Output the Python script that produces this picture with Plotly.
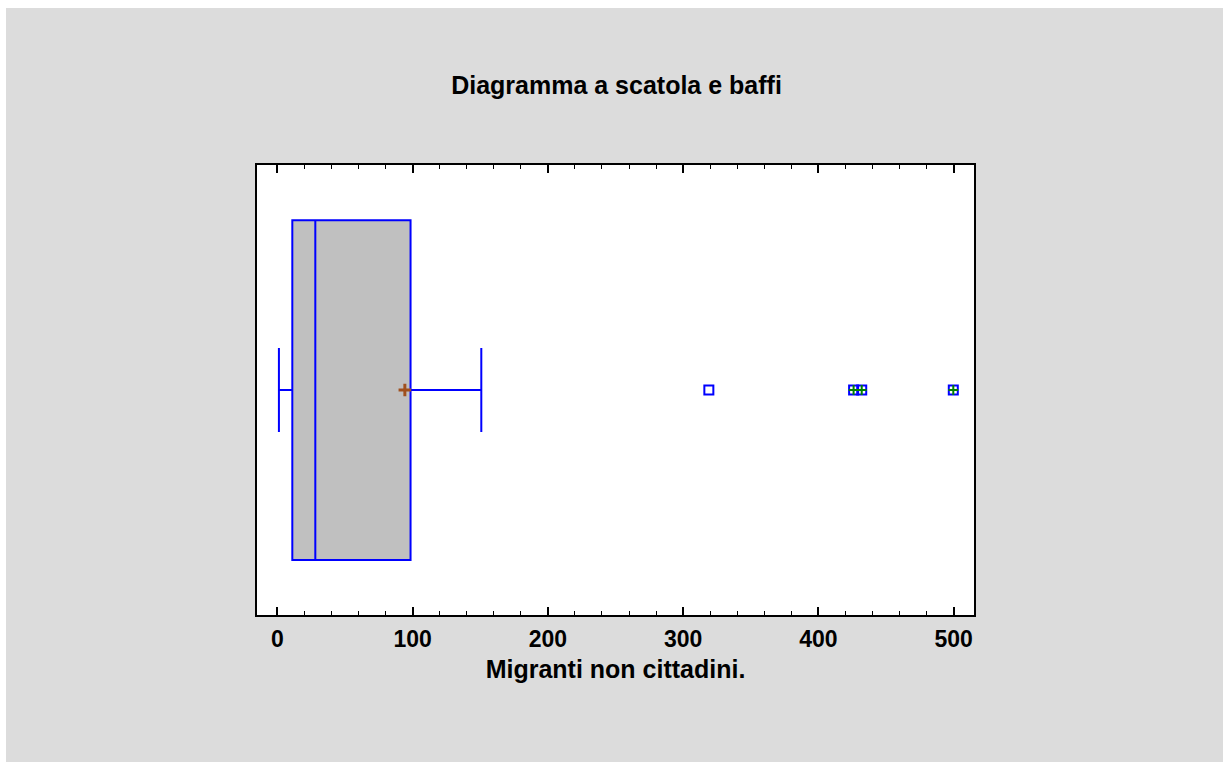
import plotly.graph_objects as go

# Box statistics
q1 = [11.1]
median = [28.1]
q3 = [98.5]
lower_whisker = [1.2]
upper_whisker = [150.8]
mean_value = [94.3]

# Outliers
outliers = [319.0]
far_outliers = [426.0, 432.0, 499.7]

tick_values = [0, 100, 200, 300, 400, 500]
tick_labels = ["0", "100", "200", "300", "400", "500"]

BLUE = "#0000FF"
FONT = "Liberation Sans"

fig = go.Figure()

fig.add_trace(go.Box(
    orientation="h",
    y=[0],
    q1=q1, median=median, q3=q3,
    lowerfence=lower_whisker, upperfence=upper_whisker,
    width=1.51,
    whiskerwidth=0.247,
    fillcolor="#C0C0C0",
    line=dict(color=BLUE, width=2),
    boxpoints=False,
    hoverinfo="skip",
    showlegend=False,
))

# mean marker
fig.add_trace(go.Scatter(
    x=mean_value, y=[0] * len(mean_value), mode="markers",
    marker=dict(symbol="cross-thin", size=9, line=dict(color="#A0501E", width=3)),
    showlegend=False, hoverinfo="skip",
))

# outliers
all_out = outliers + far_outliers
fig.add_trace(go.Scatter(
    x=all_out, y=[0] * len(all_out), mode="markers",
    marker=dict(symbol="square-open", size=9, color=BLUE, line=dict(color=BLUE, width=2)),
    showlegend=False, hoverinfo="skip",
))
fig.add_trace(go.Scatter(
    x=far_outliers, y=[0] * len(far_outliers), mode="markers",
    marker=dict(symbol="cross-thin", size=7, line=dict(color="#008000", width=2)),
    showlegend=False, hoverinfo="skip",
))

fig.update_layout(
    width=1223, height=762,
    margin=dict(l=257, r=249, t=165, b=147),
    paper_bgcolor="#DCDCDC",
    plot_bgcolor="#FFFFFF",
    font=dict(family=FONT, color="#000000"),
    title=dict(text="<b>Diagramma a scatola e baffi</b>", x=(447 + 786) / 2 / 1223, xanchor="center",
               y=1 - 85 / 762, yanchor="middle", yref="container", xref="container",
               font=dict(size=25, family=FONT, color="#000000")),
    showlegend=False,
    shapes=[
        dict(type="rect", xref="paper", yref="paper", x0=-0.5, x1=1.5,
             y0=(762 - 147 - 8) / 450, y1=2.0, fillcolor="#FFFFFF", line=dict(width=0), layer="below"),
        dict(type="rect", xref="paper", yref="paper", x0=-0.5, x1=(6 - 257) / 717,
             y0=-0.5, y1=2.0, fillcolor="#FFFFFF", line=dict(width=0), layer="below"),
    ],
)

fig.update_xaxes(
    range=[-15, 515],
    tickvals=tick_values, ticktext=[f"<b>{t}</b>" for t in tick_labels],
    tickfont=dict(size=23, family=FONT),
    ticks="inside", ticklen=8, tickwidth=2, tickcolor="#000000",
    ticklabelstandoff=2,
    minor=dict(dtick=20, ticks="inside", ticklen=4, tickwidth=1, tickcolor="#000000"),
    showline=True, linewidth=2, linecolor="#000000", mirror="allticks",
    showgrid=False, zeroline=False,
    title=dict(text="<b>Migranti non cittadini.</b>", font=dict(size=25, family=FONT), standoff=10),
)
fig.update_yaxes(
    range=[-1, 1], showticklabels=False, ticks="",
    showline=True, linewidth=2, linecolor="#000000", mirror=True,
    showgrid=False, zeroline=False,
)

fig.write_html("out.html")
